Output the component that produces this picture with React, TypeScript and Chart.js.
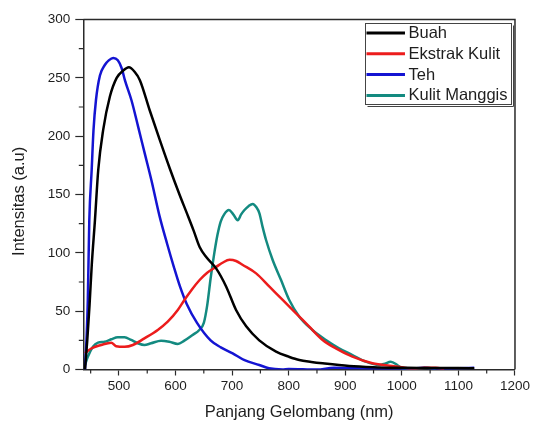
import React, { useEffect, useRef } from 'react';
import { Chart, registerables } from 'chart.js';

Chart.register(...registerables);

const seriesLabels = ['Buah', 'Ekstrak Kulit', 'Teh', 'Kulit Manggis'];
const seriesColors = ['#000000', '#ec1c1c', '#1414d2', '#138a80'];

const buahNm = [440, 444, 448, 452, 457.6, 463.4, 472, 484, 496, 507, 517.5, 528, 537, 554.5, 572, 589.7, 607, 620, 632, 642.6, 655, 672, 689.6, 707, 724.9, 748, 777.7, 800, 818.8, 840, 860, 907, 950, 1000, 1050, 1100, 1128];
const buahVal = [0, 25, 55, 90, 128, 171, 205, 234, 250, 256, 259, 255, 248, 222, 197, 172.5, 150, 134, 119, 105, 96, 86.5, 71, 51, 37, 25, 15.3, 11, 8.1, 6.5, 5.3, 3, 2, 1.5, 1.2, 1.2, 1];

const ekstrakNm = [440, 451, 468.7, 486.3, 495, 510, 524.6, 545, 568.6, 586.2, 604, 615.7, 628, 642.6, 656, 672, 683, 695.5, 707, 719, 742.5, 766, 789.4, 813, 836.4, 860, 883.4, 912.7, 948, 983, 1000, 1020, 1040, 1060, 1075];
const ekstrakVal = [14, 18, 21, 23, 20, 19.5, 21, 26.7, 33.9, 41, 51, 59.6, 68, 76.7, 83, 88, 91.5, 94, 93, 89.6, 82.4, 71, 59.6, 48.2, 36.7, 25.3, 18.1, 11, 5.3, 3, 2, 0.5, 1.5, 1.5, 0.5];

const tehNm = [440, 443, 445, 447.6, 451.8, 455, 459.4, 466.4, 475, 482, 490, 498, 505, 510.5, 522, 534, 545.7, 557.5, 572, 585, 597, 608, 620, 638, 662, 680, 701, 722, 748, 765, 789, 800, 850, 880, 920, 950, 1000, 1040, 1060, 1100, 1128];
const tehVal = [0, 30, 60, 128, 171, 205, 231, 252, 261, 265, 267, 265, 258, 248, 231, 208, 185, 162, 131, 108, 88, 71, 56, 40, 25, 19, 13.9, 8, 3.9, 1, 0, 0.5, 0, 1.5, 1, 0.5, 0, 1.5, 0.5, 1, 1.5];

const manggisNm = [440, 445, 454, 463, 474.7, 486.3, 498, 510, 521.6, 533.4, 545, 556.8, 574.4, 589, 604, 615.6, 630.3, 642, 650, 656, 662, 668, 674, 680, 686, 694.3, 702, 710, 716, 721.9, 729, 736.5, 743, 748.3, 754, 760, 771.7, 786.5, 801, 818.8, 842, 865.8, 889, 912.7, 936.3, 960, 970, 980.3, 992, 1000, 1010, 1030, 1045, 1060];
const manggisVal = [3.9, 11, 19.5, 23, 23.8, 25.9, 27.6, 27.6, 25.3, 22.5, 21, 22.5, 24.7, 23.8, 21.9, 24.7, 29.6, 33.9, 40, 55, 78, 98, 115, 127, 133, 136.7, 133, 128, 133, 136.7, 140, 141.9, 139, 133.9, 122, 111, 93.9, 76.7, 59.6, 45.3, 33.9, 25.3, 18.2, 12.4, 6.7, 3.9, 5, 6.7, 3.9, 1, 0, 1, 1.5, 0.5];

const xTicks = [500, 600, 700, 800, 900, 1000, 1100, 1200];
const xMinorTicks = [450, 550, 650, 750, 850, 950, 1050, 1150];
const yTicks = [0, 50, 100, 150, 200, 250, 300];
const yMinorTicks = [25, 75, 125, 175, 225, 275];

const xTitle = 'Panjang Gelombang (nm)';
const yTitle = 'Intensitas (a.u)';

const FONT = '"Liberation Sans", Arial, Helvetica, sans-serif';
const AXIS = '#2a2a2a';
const TEXT = '#1e1e1e';

const toPoints = (xs: number[], ys: number[]) => xs.map((x, i) => ({ x, y: ys[i] }));

const decorPlugin = {
  id: 'decor',
  afterDraw(chart: any) {
    const { ctx, chartArea: a, scales } = chart;
    ctx.save();
    ctx.strokeStyle = AXIS;
    ctx.lineWidth = 1.5;
    ctx.beginPath();
    ctx.moveTo(a.left, a.top);
    ctx.lineTo(a.right, a.top);
    ctx.lineTo(a.right, a.bottom);
    ctx.stroke();
    ctx.lineWidth = 1.2;
    ctx.beginPath();
    xMinorTicks.forEach((v) => {
      const px = scales.x.getPixelForValue(v);
      ctx.moveTo(px, a.bottom);
      ctx.lineTo(px, a.bottom + 4);
    });
    yMinorTicks.forEach((v) => {
      const py = scales.y.getPixelForValue(v);
      ctx.moveTo(a.left - 4.5, py);
      ctx.lineTo(a.left, py);
    });
    ctx.stroke();
    const lx = a.right - 150;
    const ly = a.top + 3;
    const lw = 146;
    const lh = 81;
    ctx.fillStyle = '#ffffff';
    ctx.fillRect(lx, ly, lw, lh);
    ctx.strokeStyle = '#444';
    ctx.lineWidth = 1;
    ctx.strokeRect(Math.round(lx) + 0.5, Math.round(ly) + 0.5, lw, lh);
    ctx.beginPath();
    ctx.moveTo(Math.round(lx) + lw + 2.5, Math.round(ly) + 2.5);
    ctx.lineTo(Math.round(lx) + lw + 2.5, Math.round(ly) + lh + 2.5);
    ctx.lineTo(Math.round(lx) + 2.5, Math.round(ly) + lh + 2.5);
    ctx.stroke();
    ctx.font = `16.5px ${FONT}`;
    ctx.textBaseline = 'middle';
    ctx.textAlign = 'left';
    chart.data.datasets.forEach((ds: any, i: number) => {
      const y = ly + 10.5 + i * 20.8;
      ctx.strokeStyle = ds.borderColor;
      ctx.lineWidth = 3;
      ctx.beginPath();
      ctx.moveTo(lx + 1.5, y);
      ctx.lineTo(lx + 40, y);
      ctx.stroke();
      ctx.fillStyle = TEXT;
      ctx.fillText(ds.label, lx + 43.5, y + 0.5);
    });
    ctx.restore();
  },
};

export default function App() {
  const ref = useRef<HTMLCanvasElement | null>(null);
  useEffect(() => {
    if (!ref.current) return;
    const datasets = [
      toPoints(buahNm, buahVal),
      toPoints(ekstrakNm, ekstrakVal),
      toPoints(tehNm, tehVal),
      toPoints(manggisNm, manggisVal),
    ].map((data, i) => ({
      label: seriesLabels[i],
      data,
      borderColor: seriesColors[i],
      backgroundColor: seriesColors[i],
      borderWidth: 2.5,
      pointRadius: 0,
      fill: false,
      cubicInterpolationMode: 'monotone' as const,
    }));
    const chart = new Chart(ref.current, {
      type: 'line',
      data: { datasets },
      options: {
        responsive: false,
        animation: false,
        events: [],
        layout: { padding: { left: 0, right: 16.3, top: 19.5, bottom: 0 } },
        plugins: { legend: { display: false }, tooltip: { enabled: false } },
        scales: {
          x: {
            type: 'linear',
            min: 437,
            max: 1200,
            afterBuildTicks: (scale: any) => {
              scale.ticks = xTicks.map((v) => ({ value: v }));
            },
            afterFit: (scale: any) => {
              scale.height = 53.5;
            },
            ticks: {
              autoSkip: false,
              maxRotation: 0,
              padding: 3,
              color: TEXT,
              font: { family: FONT, size: 13.5 },
              callback: (v: any) => String(v),
            },
            grid: {
              display: true,
              drawOnChartArea: false,
              drawTicks: true,
              tickLength: 6,
              tickWidth: 1.2,
              tickColor: AXIS,
              color: AXIS,
            },
            border: { display: true, color: AXIS, width: 1.5 },
            title: {
              display: true,
              text: xTitle,
              color: TEXT,
              font: { family: FONT, size: 16.5 },
              padding: { top: 0, bottom: 1 },
            },
          },
          y: {
            type: 'linear',
            min: 0,
            max: 300,
            afterBuildTicks: (scale: any) => {
              scale.ticks = yTicks.map((v) => ({ value: v }));
            },
            afterFit: (scale: any) => {
              scale.width = 83.3;
            },
            ticks: {
              autoSkip: false,
              padding: 5,
              color: TEXT,
              font: { family: FONT, size: 13.5 },
              callback: (v: any) => String(v),
            },
            grid: {
              display: true,
              drawOnChartArea: false,
              drawTicks: true,
              tickLength: 8,
              tickWidth: 1.2,
              tickColor: AXIS,
              color: AXIS,
            },
            border: { display: true, color: AXIS, width: 1.5 },
            title: {
              display: true,
              text: yTitle + '   ',
              color: TEXT,
              font: { family: FONT, size: 16.5 },
              padding: { top: 10, bottom: 0 },
            },
          },
        },
      },
      plugins: [decorPlugin],
    });
    return () => chart.destroy();
  }, []);
  return (
    <div style={{ position: 'fixed', left: 0, top: 0, width: 533, height: 423, background: '#fff' }}>
      <canvas ref={ref} width={533} height={423} style={{ display: 'block', width: 533, height: 423 }} />
    </div>
  );
}
